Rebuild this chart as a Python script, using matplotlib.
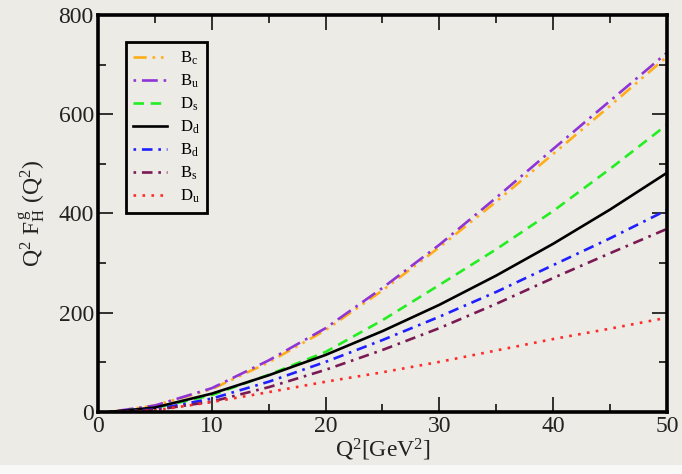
import matplotlib
matplotlib.use("Agg")
import matplotlib.pyplot as plt
from matplotlib.ticker import MultipleLocator
from matplotlib.patches import Rectangle

plt.rcParams['font.family'] = ['Liberation Serif', 'DejaVu Serif']
plt.rcParams['mathtext.fontset'] = 'custom'
plt.rcParams['mathtext.rm'] = 'Liberation Serif'
plt.rcParams['mathtext.it'] = 'Liberation Serif'

# Q^2 grid [GeV^2]
q2 = [1, 5, 10, 15, 20, 25, 30, 35, 40, 45, 50]

# Q^2 F_H^g(Q^2) for each meson
bc = [0, 13, 46, 100, 165, 245, 332, 424, 520, 617, 716]
bu = [0, 13, 48, 104, 169, 250, 337, 432, 530, 627, 724]
ds = [0, 8, 34, 75, 121, 185, 256, 328, 405, 490, 579]
dd = [0, 9, 37, 74, 115, 163, 216, 275, 339, 408, 482]
bd = [0, 5, 27, 61, 101, 145, 192, 242, 296, 350, 407]
bs = [0, 4, 21, 50, 85, 125, 169, 218, 270, 320, 369]
du = [0, 3, 20, 40, 61, 80, 101, 124, 147, 168, 190]

labels = [r'$\mathrm{B_c}$', r'$\mathrm{B_u}$', r'$\mathrm{D_s}$', r'$\mathrm{D_d}$',
          r'$\mathrm{B_d}$', r'$\mathrm{B_s}$', r'$\mathrm{D_u}$']

bg = '#edebe5'
fig = plt.figure(figsize=(6.82, 4.74), dpi=100, facecolor=bg)
ax = fig.add_axes([0.1437, 0.1308, 0.8343, 0.8376], facecolor=bg)

lw = 1.9
series = [
    (bc, '#ffae1a', (0, (5, 2.2, 1, 2.2, 1, 2.2))),
    (bu, '#8f35d6', (0, (1, 2.2, 6, 2.2))),
    (ds, '#22ee22', (0, (4, 2.5))),
    (dd, '#000000', '-'),
    (bd, '#1f1fff', (0, (1, 2.2, 4, 2.2))),
    (bs, '#7a1a55', (0, (1, 2.2, 4, 2.2))),
    (du, '#ff2a2a', (0, (1, 2.4))),
]
for (vals, col, ls), lab in zip(series, labels):
    ax.plot(q2, vals, color=col, linestyle=ls, lw=lw, label=lab)

ax.set_xlim(0, 50)
ax.set_ylim(0, 800)
ax.xaxis.set_major_locator(MultipleLocator(10))
ax.xaxis.set_minor_locator(MultipleLocator(5))
ax.yaxis.set_major_locator(MultipleLocator(200))
ax.yaxis.set_minor_locator(MultipleLocator(100))
ax.tick_params(which='both', direction='in', top=True, right=True,
               labelsize=17, colors='#222222', pad=3)
ax.tick_params(which='major', length=11, width=1.3)
ax.tick_params(which='minor', length=6, width=1.3)
for s in ax.spines.values():
    s.set_linewidth(2.6)
    s.set_color('black')

ax.set_xlabel(r'$\mathrm{Q^2[GeV^2]}$', fontsize=17, labelpad=0, color='#222222')
ax.set_ylabel(r'$\mathrm{Q^2\ F_H^{\,g}\ (Q^2)}$', fontsize=17, labelpad=8, color='#222222')

leg = ax.legend(loc='upper left', bbox_to_anchor=(0.049, 0.932), borderaxespad=0,
                fontsize=12, frameon=True, fancybox=False, edgecolor='black',
                facecolor=bg, framealpha=1, handlelength=2.0, handletextpad=0.8,
                labelspacing=0.34, borderpad=0.45)
leg.get_frame().set_linewidth(2.0)

# light strip along the lower edge of the figure
fig.patches.append(Rectangle((0, 0), 1, 0.018, transform=fig.transFigure,
                             facecolor='#f8f8f6', edgecolor='none'))

fig.savefig('out.png', dpi=100, facecolor=bg)
